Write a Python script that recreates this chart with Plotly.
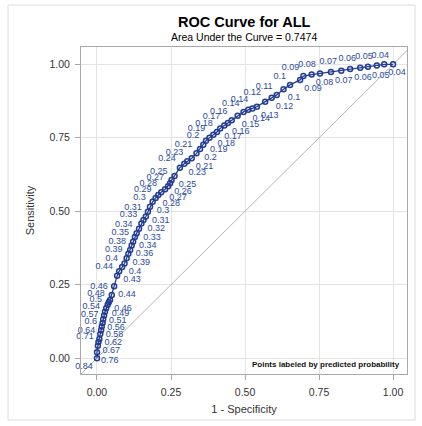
import plotly.graph_objects as go

# ROC points (1 - specificity, sensitivity) and predicted-probability labels
fpr = [0.000, 0.000, 0.003, 0.005, 0.008, 0.011, 0.014, 0.016, 0.019, 0.021,
       0.024, 0.027, 0.031, 0.036, 0.040, 0.044, 0.050, 0.058, 0.068, 0.075,
       0.085, 0.093, 0.100, 0.106, 0.112, 0.117, 0.122, 0.128, 0.134, 0.142,
       0.150, 0.157, 0.165, 0.172, 0.179, 0.188, 0.198, 0.207, 0.217, 0.230,
       0.240, 0.247, 0.252, 0.262, 0.280, 0.295, 0.305, 0.320, 0.336, 0.348,
       0.359, 0.368, 0.380, 0.393, 0.405, 0.416, 0.430, 0.442, 0.455, 0.475,
       0.495, 0.511, 0.525, 0.540, 0.568, 0.590, 0.607, 0.630, 0.652, 0.686,
       0.697, 0.725, 0.753, 0.790, 0.825, 0.855, 0.889, 0.915, 0.945, 0.970,
       1.000]
tpr = [0.000, 0.020, 0.042, 0.055, 0.065, 0.082, 0.095, 0.108, 0.120, 0.132,
       0.145, 0.158, 0.170, 0.182, 0.190, 0.198, 0.215, 0.245, 0.280, 0.296,
       0.310, 0.322, 0.340, 0.355, 0.368, 0.383, 0.396, 0.412, 0.425, 0.440,
       0.458, 0.470, 0.482, 0.498, 0.515, 0.532, 0.545, 0.555, 0.565, 0.575,
       0.585, 0.595, 0.606, 0.620, 0.648, 0.662, 0.670, 0.680, 0.697, 0.712,
       0.726, 0.740, 0.750, 0.760, 0.770, 0.782, 0.792, 0.800, 0.810, 0.825,
       0.838, 0.845, 0.850, 0.856, 0.873, 0.886, 0.896, 0.915, 0.930, 0.947,
       0.960, 0.965, 0.969, 0.974, 0.978, 0.984, 0.988, 0.992, 0.996, 1.000,
       1.000]
prob = [0.84, 0.76, 0.71, 0.67, 0.64, 0.62, 0.6, 0.58, 0.57, 0.56,
        0.54, 0.51, 0.5, 0.49, 0.48, 0.46, 0.46, 0.44, 0.44, 0.43,
        0.4, 0.4, 0.39, 0.39, 0.38, 0.36, 0.35, 0.34, 0.34, 0.33,
        0.33, 0.32, 0.31, 0.31, 0.3, 0.3, 0.29, 0.28, 0.28, 0.27,
        0.27, 0.26, 0.25, 0.25, 0.24, 0.23, 0.23, 0.21, 0.21, 0.2,
        0.2, 0.19, 0.19, 0.18, 0.18, 0.17, 0.17, 0.16, 0.16, 0.15,
        0.14, 0.14, 0.14, 0.13, 0.12, 0.12, 0.11, 0.1, 0.1, 0.09,
        0.09, 0.08, 0.08, 0.07, 0.07, 0.06, 0.06, 0.05, 0.05, 0.04,
        0.04]
tick_vals = [0.0, 0.25, 0.5, 0.75, 1.0]
tick_text = ["0.00", "0.25", "0.50", "0.75", "1.00"]

BLUE = "#223d92"
FONT = "Arial, Liberation Sans, sans-serif"
labels = [f"{p:g}" for p in prob]
positions = ["top left" if i % 2 == 0 else "bottom right" for i in range(len(prob))]
positions[0] = "bottom left"

fig = go.Figure()
fig.add_trace(go.Scatter(
    x=[-0.1, 1.1], y=[-0.1, 1.1], mode="lines",
    line=dict(color="#b4b4b4", width=1), hoverinfo="skip", showlegend=False))
fig.add_trace(go.Scatter(
    x=fpr, y=tpr, mode="lines+markers+text",
    text=labels, textposition=positions,
    textfont=dict(family=FONT, size=9, color="#2b4a9e"),
    line=dict(color=BLUE, width=1.3),
    marker=dict(symbol="circle-open", size=5, color=BLUE, line=dict(width=1.5)),
    cliponaxis=False, showlegend=False))

axis_common = dict(
    tickvals=tick_vals, ticktext=tick_text, showgrid=True, gridcolor="#e4e4e4",
    gridwidth=1, zeroline=False, showline=True, linecolor="#a8a8a8", linewidth=1,
    mirror=True, ticks="outside", ticklen=5, tickcolor="#a8a8a8",
    ticklabelstandoff=3,
    tickfont=dict(family=FONT, size=10.5, color="#333333"))

fig.update_xaxes(range=[-0.054, 1.047], **axis_common,
                 title=dict(text="1 - Specificity", standoff=8,
                            font=dict(family=FONT, size=11, color="#333333")))
fig.update_yaxes(range=[-0.054, 1.059], **axis_common,
                 title=dict(text="Sensitivity", standoff=12,
                            font=dict(family=FONT, size=11, color="#333333")))

fig.update_layout(
    width=422, height=426,
    margin=dict(l=81, r=15, t=47, b=52),
    paper_bgcolor="white", plot_bgcolor="white",
    annotations=[
        dict(text="<b>ROC Curve for ALL</b>", xref="paper", yref="paper",
             x=0.5, y=1, yshift=25, showarrow=False, xanchor="center", yanchor="middle",
             font=dict(family=FONT, size=14.5, color="#000000")),
        dict(text="Area Under the Curve = 0.7474", xref="paper", yref="paper",
             x=0.5, y=1, yshift=10, showarrow=False, xanchor="center", yanchor="middle",
             font=dict(family=FONT, size=10.5, color="#000000")),
        dict(text="<b>Points labeled by predicted probability</b>", xref="paper", yref="paper",
             x=0.985, y=0.008, showarrow=False, xanchor="right", yanchor="bottom",
             font=dict(family=FONT, size=8, color="#111111")),
    ],
    shapes=[dict(type="rect", xref="paper", yref="paper",
                 x0=-73/326, x1=1 + 8/326, y0=-46/327, y1=1 + 42/327,
                 line=dict(color="#dcdcdc", width=1), layer="below")],
)

fig.write_html("out.html", config={"displayModeBar": False},
               post_script="document.body.style.margin='0';")
